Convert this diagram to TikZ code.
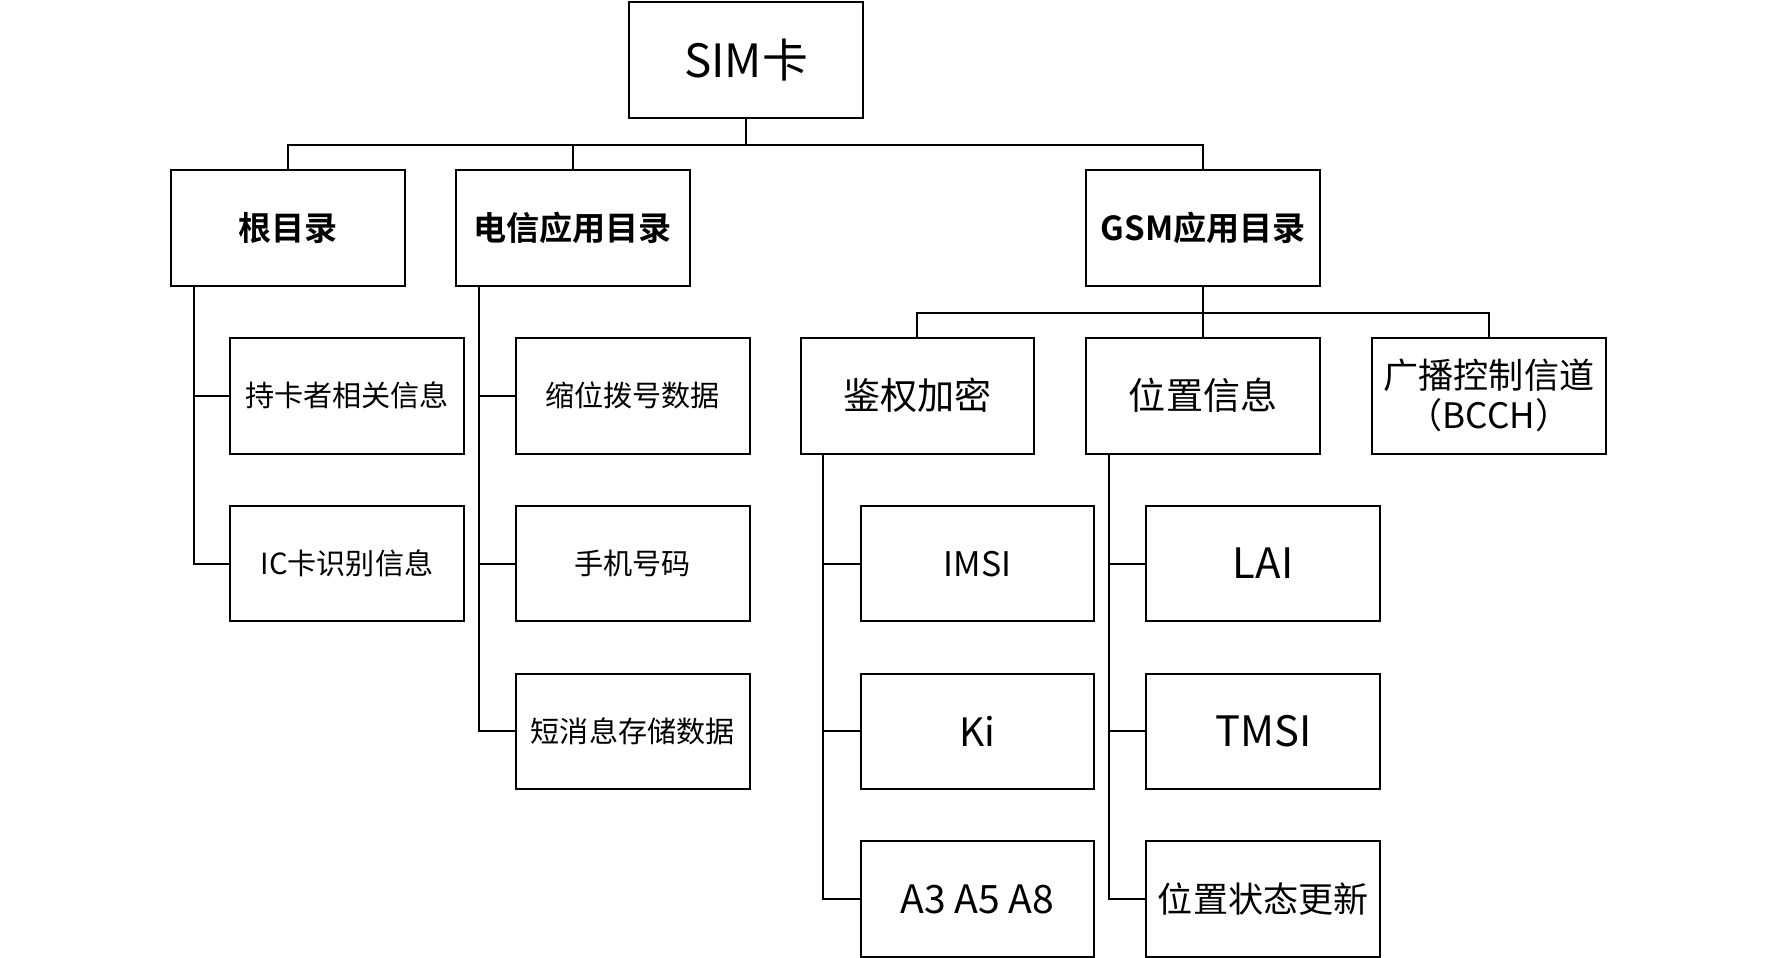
\documentclass[tikz,border=0pt]{standalone}
\usepackage{fontspec}
\setmainfont{Noto Sans CJK SC}[BoldFont=* Bold]
\usetikzlibrary{positioning, calc}

\begin{document}
\begin{tikzpicture}[x=0.01cm, y=-0.01cm,
    box/.style={rectangle, draw=black, fill=white, line width=0.5pt, minimum width=2.06cm, minimum height=1.02cm, font=\fontsize{7.3}{8.8}\selectfont, align=center, inner sep=1pt},
    head/.style={box, font=\fontsize{8.3}{10}\selectfont\bfseries},
    link/.style={draw=black, line width=0.5pt}
]
\useasboundingbox (0,-1) rectangle (1560,843);
% top
\node[box, font=\fontsize{11.5}{13}\selectfont] (sim) at (658,52) {SIM卡};
\node[head] (root) at (254,200) {根目录};
\node[head] (tele) at (505,200) {电信应用目录};
\node[head] (gsm) at (1061,200) {GSM应用目录};
\draw[link] (sim.south) -- ++(0,23) coordinate (bus);
\draw[link] (root.north) |- (bus) -| (gsm.north);
\draw[link] (tele.north) -- (tele.north |- bus);

% root directory
\node[box] (holder) at (306,348) {持卡者相关信息};
\node[box] (icid) at (306,496) {IC卡识别信息};
\draw[link] ($(root.south west)+(21,0)$) |- (icid.west);
\draw[link] (holder.west) -- ++(-31,0);

% telecom directory
\node[box] (dial) at (558,348) {缩位拨号数据};
\node[box] (phone) at (558,496) {手机号码};
\node[box] (sms) at (558,644) {短消息存储数据};
\draw[link] ($(tele.south west)+(21,0)$) |- (sms.west);
\foreach \n in {dial, phone}
  \draw[link] (\n.west) -- ++(-31,0);

% GSM directory
\node[box, font=\fontsize{9.3}{11}\selectfont] (auth) at (809,348) {鉴权加密};
\node[box, font=\fontsize{9.3}{11}\selectfont] (loc) at (1061,348) {位置信息};
\node[box, font=\fontsize{8.8}{10}\selectfont] (bcch) at (1313,348) {广播控制信道\\（BCCH）};
\draw[link] (gsm.south) -- ++(0,23) coordinate (gbus);
\draw[link] (auth.north) |- (gbus) -| (bcch.north);
\draw[link] (loc.north) -- (loc.north |- gbus);

\node[box, font=\fontsize{8.5}{10}\selectfont] (imsi) at (862,496) {IMSI};
\node[box, font=\fontsize{9.8}{11}\selectfont] (ki) at (862,644) {Ki};
\node[box, font=\fontsize{9.8}{11}\selectfont] (algo) at (862,792) {A3 A5 A8};
\draw[link] ($(auth.south west)+(21,0)$) |- (algo.west);
\foreach \n in {imsi, ki}
  \draw[link] (\n.west) -- ++(-31,0);

\node[box, font=\fontsize{10.5}{12}\selectfont] (lai) at (1114,496) {LAI};
\node[box, font=\fontsize{10.5}{12}\selectfont] (tmsi) at (1114,644) {TMSI};
\node[box, font=\fontsize{8.8}{10}\selectfont] (upd) at (1114,792) {位置状态更新};
\draw[link] ($(loc.south west)+(21,0)$) |- (upd.west);
\foreach \n in {lai, tmsi}
  \draw[link] (\n.west) -- ++(-31,0);
\end{tikzpicture}
\end{document}
